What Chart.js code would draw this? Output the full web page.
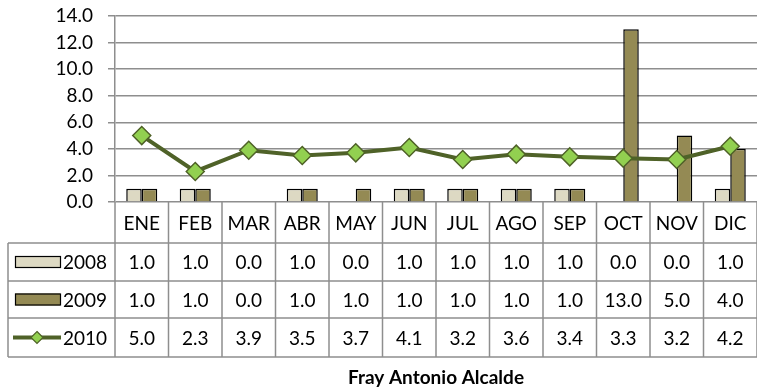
<!DOCTYPE html>
<html>
<head>
<meta charset="utf-8">
<script src="https://cdn.jsdelivr.net/npm/chart.js@4"></script>
<style>
  html, body { margin: 0; padding: 0; background: #fff; }
  #wrap { width: 757px; height: 387px; }
</style>
</head>
<body>
<div id="wrap"><canvas id="fray" width="757" height="387"></canvas></div>
<script>
"use strict";

// chart data
const months = ['ENE','FEB','MAR','ABR','MAY','JUN','JUL','AGO','SEP','OCT','NOV','DIC'];
const years = ['2008', '2009', '2010'];
const v2008 = [1.0, 1.0, 0.0, 1.0, 0.0, 1.0, 1.0, 1.0, 1.0, 0.0, 0.0, 1.0];
const v2009 = [1.0, 1.0, 0.0, 1.0, 1.0, 1.0, 1.0, 1.0, 1.0, 13.0, 5.0, 4.0];
const v2010 = [5.0, 2.3, 3.9, 3.5, 3.7, 4.1, 3.2, 3.6, 3.4, 3.3, 3.2, 4.2];
const yTicks = [0, 2, 4, 6, 8, 10, 12, 14];
const title = 'Fray Antonio Alcalde';

const FONT = 'Lato, "Open Sans", sans-serif';
const GRID = '#8e8e8e';
const colors = { b2008: '#ddd9c3', b2009: '#948a54', line: '#4f6228', marker: '#92d050' };

// zero bars are not drawn in the original
let hideZero = function (arr) { return arr.map(v => v === 0 ? null : v); };

// draws the data table + title under the plot
const tablePlugin = {
  id: 'dataTable',
  afterDraw(chart) {
    const c = chart.ctx;
    const x = chart.scales.x;
    const area = chart.chartArea;
    const half = (area.right - area.left) / months.length / 2;
    const rowsY = [area.bottom, 243, 281, 318, 357];
    const tableLeft = 8;

    c.save();
    c.strokeStyle = GRID;
    c.lineWidth = 1.5;

    // horizontal lines
    for (let r = 1; r < rowsY.length; r++) {
      c.beginPath();
      c.moveTo(tableLeft, rowsY[r]);
      c.lineTo(area.right, rowsY[r]);
      c.stroke();
    }
    // vertical lines
    c.beginPath();
    c.moveTo(tableLeft, rowsY[1]);
    c.lineTo(tableLeft, rowsY[4]);
    c.stroke();
    for (let i = 0; i <= months.length; i++) {
      const px = i < months.length ? x.getPixelForValue(i) - half : x.getPixelForValue(months.length - 1) + half;
      c.beginPath();
      c.moveTo(px, rowsY[0]);
      c.lineTo(px, rowsY[4]);
      c.stroke();
    }

    // header + values
    c.fillStyle = '#000';
    c.font = '19px ' + FONT;
    c.textAlign = 'center';
    c.textBaseline = 'middle';
    const series = [v2008, v2009, v2010];
    months.forEach((m, i) => {
      const cx = x.getPixelForValue(i);
      c.fillText(m, cx, (rowsY[0] + rowsY[1]) / 2 + 1);
      series.forEach((s, r) => {
        c.fillText(s[i].toFixed(1), cx, (rowsY[r + 1] + rowsY[r + 2]) / 2 + 1);
      });
    });

    // legend keys
    c.textAlign = 'left';
    const keyL = 15, keyR = 60;
    for (let r = 0; r < 3; r++) {
      const cy = (rowsY[r + 1] + rowsY[r + 2]) / 2;
      if (r < 2) {
        c.fillStyle = r === 0 ? colors.b2008 : colors.b2009;
        c.fillRect(keyL, cy - 6, keyR - keyL, 12);
        c.strokeStyle = '#000';
        c.lineWidth = 1.2;
        c.strokeRect(keyL + 0.5, cy - 5.5, keyR - keyL, 11);
      } else {
        c.strokeStyle = colors.line;
        c.lineWidth = 4;
        c.beginPath();
        c.moveTo(13, cy);
        c.lineTo(61, cy);
        c.stroke();
        c.fillStyle = colors.marker;
        c.lineWidth = 1.2;
        c.beginPath();
        c.moveTo(37, cy - 6);
        c.lineTo(43, cy);
        c.lineTo(37, cy + 6);
        c.lineTo(31, cy);
        c.closePath();
        c.fill();
        c.stroke();
      }
      c.fillStyle = '#000';
      c.fillText(years[r], 63, cy + 1);
    }

    // title
    c.font = 'bold 19px ' + FONT;
    c.textAlign = 'center';
    c.fillText(title, (area.left + area.right) / 2, 378);
    c.restore();
  }
};

const ctx = document.getElementById('fray').getContext('2d');

let config =
  {
  data:
    {
    labels: months,
    datasets:
      [
      {
        type: 'line',
        label: years[2],
        data: v2010,
        borderColor: colors.line,
        borderWidth: 4,
        pointStyle: 'rectRot',
        pointRadius: 9,
        pointBackgroundColor: colors.marker,
        pointBorderColor: colors.line,
        pointBorderWidth: 1.5,
        tension: 0,
        order: 0
      },
      {
        type: 'bar',
        label: years[0],
        data: hideZero(v2008),
        backgroundColor: colors.b2008,
        borderColor: '#000',
        borderWidth: 1.5,
        order: 1
      },
      {
        type: 'bar',
        label: years[1],
        data: hideZero(v2009),
        backgroundColor: colors.b2009,
        borderColor: '#000',
        borderWidth: 1.5,
        order: 1
      }
    ]
  },
  options:
    {
    responsive: false,
    animation: false,
    layout: { autoPadding: false, padding: { top: 16, right: 0, bottom: 185, left: 0 } },
    datasets: { bar: { barPercentage: 1, categoryPercentage: 0.58 } },
    plugins: { legend: { display: false }, tooltip: { enabled: false } },
    scales:
      {
      x: { display: false },
      y:
        {
        min: 0,
        max: 14,
        afterFit: function (scale) {
          scale.width = 115;
          scale.paddingTop = 0;
          scale.paddingBottom = 0;
        },
        afterBuildTicks: function (scale) { scale.ticks = yTicks.map(v => ({ value: v })); },
        border: { color: GRID, width: 1.5 },
        grid: { color: GRID, lineWidth: 1.5, tickLength: 7 },
        ticks:
          {
          padding: 15,
          color: '#000',
          font: { family: FONT, size: 19 },
          callback: function (value) { return value.toFixed(1); }
        }
      }
    }
  },
  plugins: [tablePlugin]
};

const frayChart = new Chart(ctx, config);
</script>
</body>
</html>
